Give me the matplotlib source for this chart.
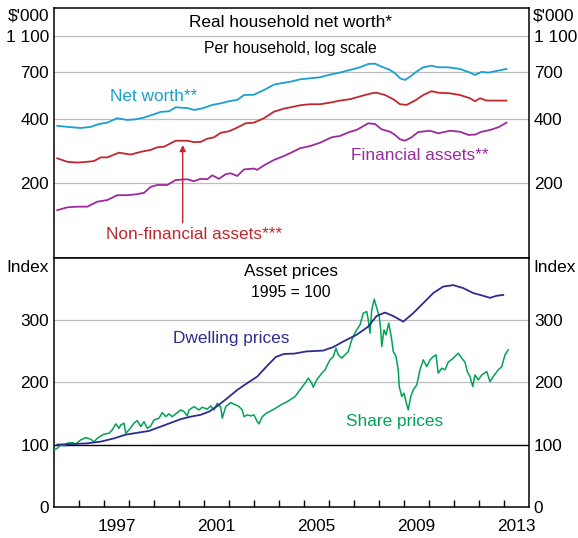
import numpy as np
import matplotlib
matplotlib.use("Agg")
import matplotlib.pyplot as plt

plt.rcParams['font.family'] = ['Liberation Sans', 'DejaVu Sans']

# --- household wealth, $'000 per household ---
nw_year = [1995.13, 1995.53, 1996.07, 1996.47, 1996.8, 1997.13, 1997.53, 1997.93, 1998.27, 1998.6,
           1999.0, 1999.27, 1999.6, 1999.87, 2000.33, 2000.6, 2000.93, 2001.33, 2001.67, 2002.0,
           2002.33, 2002.6, 2003.0, 2003.4, 2003.8, 2004.2, 2004.5, 2004.84, 2005.24, 2005.64,
           2006.04, 2006.44, 2006.84, 2007.24, 2007.57, 2007.84, 2008.1, 2008.44, 2008.64, 2008.84,
           2009.04, 2009.24, 2009.5, 2009.77, 2010.1, 2010.37, 2010.77, 2011.24, 2011.64, 2011.84,
           2012.1, 2012.37, 2012.7, 2013.1]
net_worth = [370, 366, 361, 366, 378, 384, 404, 396, 399, 407,
             423, 435, 438, 459, 455, 445, 453, 472, 481, 493,
             501, 531, 533, 564, 602, 616, 625, 642, 650, 658,
             680, 697, 720, 744, 775, 778, 750, 720, 691, 650,
             637, 663, 705, 744, 759, 744, 744, 729, 697, 677,
             703, 697, 711, 729]

nf_year = [1995.13, 1995.53, 1995.93, 1996.33, 1996.6, 1996.87, 1997.13, 1997.6, 1998.07, 1998.47,
           1998.87, 1999.13, 1999.4, 1999.87, 2000.33, 2000.6, 2000.87, 2001.13, 2001.4, 2001.67,
           2002.0, 2002.27, 2002.67, 2003.0, 2003.4, 2003.8, 2004.2, 2004.5, 2004.84, 2005.24,
           2005.64, 2006.04, 2006.44, 2006.84, 2007.3, 2007.7, 2007.9, 2008.24, 2008.57, 2008.84,
           2009.1, 2009.44, 2009.77, 2010.1, 2010.37, 2010.84, 2011.24, 2011.64, 2011.84, 2012.04,
           2012.3, 2012.7, 2013.1]
non_financial = [258.5, 249, 247, 249, 251, 261, 261, 274.5, 269, 277,
                 283, 291, 293, 313, 313, 308, 309, 320, 325, 342,
                 348, 360, 381, 384, 404, 436, 452, 460, 470, 476,
                 476, 485, 497, 505, 525, 542, 546, 531, 505, 476,
                 472, 497, 531, 556, 546, 542, 531, 511, 493, 511,
                 497, 497, 497]

fa_year = [1995.13, 1995.53, 1995.93, 1996.33, 1996.73, 1997.13, 1997.53, 1997.93, 1998.27, 1998.6,
           1998.87, 1999.13, 1999.53, 1999.87, 2000.33, 2000.6, 2000.87, 2001.13, 2001.33, 2001.6,
           2001.87, 2002.07, 2002.33, 2002.6, 2003.0, 2003.13, 2003.4, 2003.8, 2004.2, 2004.44,
           2004.84, 2005.24, 2005.64, 2006.1, 2006.44, 2006.84, 2007.1, 2007.57, 2007.84, 2008.1,
           2008.44, 2008.64, 2008.84, 2009.04, 2009.3, 2009.57, 2010.04, 2010.37, 2010.84, 2011.24,
           2011.57, 2011.84, 2012.1, 2012.44, 2012.77, 2013.1]
financial = [155, 159, 160, 160, 167.5, 170, 178, 178, 179.5, 182,
             193, 196.5, 196.5, 206.5, 208, 204, 209, 208, 216.5, 209,
             219, 221, 215, 230, 232, 229, 240, 254, 265, 273,
             288, 295, 306, 325, 330, 346, 353, 381, 378, 356,
             346, 334, 318, 313, 325, 345, 350, 340, 350, 346,
             334, 335, 346, 353, 364, 384]

# --- asset prices, 1995 = 100 ---
dw_year = [1995.13, 1995.8, 1996.33, 1996.87, 1997.4, 1997.87, 1998.33, 1998.8, 1999.27, 1999.67,
           2000.07, 2000.47, 2000.87, 2001.2, 2001.53, 2001.93, 2002.33, 2002.73, 2003.13, 2003.53,
           2003.87, 2004.2, 2004.6, 2005.1, 2005.77, 2006.17, 2006.57, 2007.1, 2007.57, 2007.9,
           2008.24, 2008.57, 2008.97, 2009.37, 2009.77, 2010.17, 2010.57, 2010.97, 2011.37, 2011.77,
           2012.17, 2012.44, 2012.7, 2012.97]
dwelling = [100, 101, 102, 104.8, 110, 116, 119, 122, 129, 135,
            141, 145, 148, 153, 162, 174.7, 188, 199, 209.5, 227,
            241, 246, 246.5, 250, 251.4, 257, 266, 276.7, 290, 307,
            312.6, 307, 298, 311.7, 327.8, 344, 354.5, 356.8, 352, 344,
            339.6, 336.3, 339.6, 341]

sh_year = [1995.0, 1995.13, 1995.27, 1995.4, 1995.53, 1995.73, 1995.87, 1996.07, 1996.27, 1996.47,
           1996.6, 1996.73, 1996.87, 1997.0, 1997.2, 1997.33, 1997.47, 1997.6, 1997.67, 1997.8,
           1997.87, 1998.0, 1998.2, 1998.33, 1998.47, 1998.6, 1998.73, 1998.87, 1999.0, 1999.2,
           1999.33, 1999.47, 1999.6, 1999.73, 1999.87, 2000.07, 2000.2, 2000.33, 2000.4, 2000.6,
           2000.8, 2000.93, 2001.13, 2001.27, 2001.4, 2001.53, 2001.67, 2001.73, 2001.87, 2002.07,
           2002.27, 2002.4, 2002.53, 2002.6, 2002.73, 2002.87, 2003.0, 2003.13, 2003.2, 2003.33,
           2003.53, 2003.8, 2004.07, 2004.33, 2004.44, 2004.64, 2004.84, 2005.04, 2005.17, 2005.31,
           2005.37, 2005.51, 2005.71, 2005.84, 2005.97,
           2006.04, 2006.17, 2006.28, 2006.37, 2006.51, 2006.64, 2006.77, 2006.91, 2007.0, 2007.11,
           2007.24, 2007.37, 2007.51, 2007.57, 2007.64, 2007.71, 2007.81, 2007.91, 2008.01, 2008.07,
           2008.11, 2008.2, 2008.28, 2008.39, 2008.51, 2008.57, 2008.68, 2008.77, 2008.81, 2008.91,
           2009.0, 2009.08, 2009.17, 2009.27, 2009.37, 2009.51, 2009.64, 2009.77, 2009.91, 2010.04,
           2010.17, 2010.28, 2010.37, 2010.51, 2010.64, 2010.77, 2010.97, 2011.17, 2011.31, 2011.44,
           2011.53, 2011.64, 2011.75, 2011.84, 2011.97, 2012.11, 2012.31, 2012.44, 2012.57, 2012.77,
           2012.91, 2013.04, 2013.17]
shares = [91.4, 94.1, 99.4, 97.8, 102.2, 103.2, 101, 107.5, 111.2, 108.6,
          104.3, 110.2, 113.9, 116.7, 118.3, 123.6, 133.3, 126.3, 131.7, 134.4,
          118.3, 123.6, 134.4, 138.6, 128.9, 137, 126.3, 130, 139.7, 142.5,
          151.5, 145, 149.4, 145, 149.4, 155.8, 153.1, 146.2, 155.8, 161.2,
          155.8, 160.2, 157, 162.3, 155.8, 166.6, 160.2, 142.5, 161.2, 167.6,
          163.9, 161.2, 155.8, 145, 147.8, 146.2, 147.8, 137, 133.3, 145,
          151.5, 157, 163.9, 169.2, 172, 177.3, 188, 198.9, 206.9, 198.9,
          192.4, 204.2, 215, 220.3, 231.1,
          236.4, 241.7, 255.3, 244.5, 239.2, 244.5, 249.8, 268.6, 276.7, 284.8,
          292.8, 311.7, 314.3, 300.9, 279.4, 317, 334.2, 319.7, 306.2, 284.8,
          257.9, 284.8, 276.7, 295.6, 268.6, 249.8, 241.7, 220.3, 193.4, 177.3,
          182.8, 169.2, 155.8, 177.3, 188, 196.1, 220.3, 236.4, 225.6, 236.4,
          241.7, 244.5, 215, 223, 220.3, 232.7, 239.2, 247.2, 239.2, 232.7,
          217.6, 209.5, 193.4, 212.2, 204.2, 212.2, 217.6, 201.5, 209.5, 220.3,
          225.6, 244.5, 252.5]

top_ticks = [200, 400, 700, 1100]
top_ticklabels = ['200', '400', '700', '1 100']
bot_ticks = [0, 100, 200, 300]
year_labels = [1997, 2001, 2005, 2009, 2013]

C_NW = '#1a9fcf'
C_NF = '#c0282f'
C_FA = '#9c2a9f'
C_DW = '#2e2c8f'
C_SH = '#00a356'
GRID = '#bdbdbd'
FS = 12.4
FS2 = 11.3


# gridline spacing on the original is a shifted log
def fwd(v):
    return np.log(np.maximum(np.asarray(v, dtype=float) - 50, 1e-3))


def inv(u):
    return np.exp(u) + 50


fig = plt.figure(figsize=(5.78, 5.38), dpi=100)
ax1 = fig.add_axes([54 / 578, 0.5199, 475 / 578, 0.4652])
ax2 = fig.add_axes([54 / 578, 0.0582, 475 / 578, 0.4617])

# top panel
ax1.set_yscale('function', functions=(fwd, inv))
ax1.set_xlim(1995, 2014)
ax1.set_ylim(105.6, 1569)
for t in top_ticks:
    ax1.axhline(t, color=GRID, lw=0.9, zorder=1)
ax1.plot(nw_year, net_worth, color=C_NW, lw=1.3, zorder=3)
ax1.plot(nf_year, non_financial, color=C_NF, lw=1.3, zorder=3)
ax1.plot(fa_year, financial, color=C_FA, lw=1.3, zorder=3)
ax1.set_yticks(top_ticks)
ax1.set_yticklabels(top_ticklabels)
ax1.yaxis.set_minor_locator(matplotlib.ticker.NullLocator())
ax1.set_xticks([])

ax1.text(0.498, 0.944, 'Real household net worth*', transform=ax1.transAxes,
         ha='center', va='center', fontsize=FS)
ax1.text(0.498, 0.840, 'Per household, log scale', transform=ax1.transAxes,
         ha='center', va='center', fontsize=FS2)
ax1.text(0.2095, 0.648, 'Net worth**', transform=ax1.transAxes,
         ha='center', va='center', fontsize=FS, color=C_NW)
ax1.text(0.2958, 0.097, 'Non-financial assets***', transform=ax1.transAxes,
         ha='center', va='center', fontsize=FS, color=C_NF)
ax1.text(0.7705, 0.4127, 'Financial assets**', transform=ax1.transAxes,
         ha='center', va='center', fontsize=FS, color=C_FA)
ax1.annotate('', xy=(0.271, 0.4527), xytext=(0.271, 0.142), xycoords='axes fraction',
             arrowprops=dict(arrowstyle='-|>', color=C_NF, lw=1.0,
                             mutation_scale=9, shrinkA=0, shrinkB=0))

# bottom panel
ax2.set_xlim(1995, 2014)
ax2.set_ylim(0, 400)
for t in [200, 300]:
    ax2.axhline(t, color=GRID, lw=0.9, zorder=1)
ax2.axhline(100, color='black', lw=1.0, zorder=2)
ax2.plot(sh_year, shares, color=C_SH, lw=1.1, zorder=3)
ax2.plot(dw_year, dwelling, color=C_DW, lw=1.3, zorder=4)
ax2.set_yticks(bot_ticks)

ax2.set_xticks(np.arange(1996, 2014))
ax2.set_xticklabels([])
ax2.set_xticks([y + 0.5 for y in year_labels], minor=True)
ax2.set_xticklabels([str(y) for y in year_labels], minor=True)
ax2.tick_params(axis='x', which='major', direction='in', length=5, width=1.0, top=False)
ax2.tick_params(axis='x', which='minor', length=0, pad=9, labelsize=FS)

ax2.text(0.4989, 0.945, 'Asset prices', transform=ax2.transAxes,
         ha='center', va='center', fontsize=FS)
ax2.text(0.4989, 0.864, '1995 = 100', transform=ax2.transAxes,
         ha='center', va='center', fontsize=FS2)
ax2.text(0.3737, 0.679, 'Dwelling prices', transform=ax2.transAxes,
         ha='center', va='center', fontsize=FS, color=C_DW)
ax2.text(0.7179, 0.341, 'Share prices', transform=ax2.transAxes,
         ha='center', va='center', fontsize=FS, color=C_SH)

for ax in (ax1, ax2):
    ax.tick_params(axis='y', which='both', length=0, labelleft=True, labelright=True,
                   pad=3.5, labelsize=FS)
    for s in ax.spines.values():
        s.set_linewidth(1.1)
        s.set_color('black')

fig.text(49 / 578, 1 - 16 / 538, "$'000", ha='right', va='center', fontsize=FS)
fig.text(533 / 578, 1 - 16 / 538, "$'000", ha='left', va='center', fontsize=FS)
fig.text(49 / 578, 1 - 268 / 538, 'Index', ha='right', va='center', fontsize=FS)
fig.text(533 / 578, 1 - 268 / 538, 'Index', ha='left', va='center', fontsize=FS)

fig.savefig('out.png', dpi=100)
